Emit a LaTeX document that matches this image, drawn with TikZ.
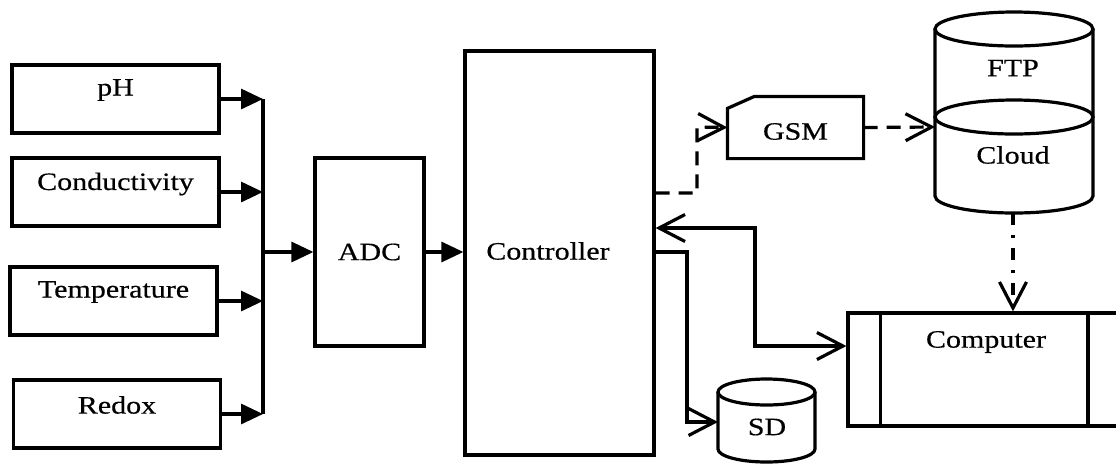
\documentclass[tikz,border=0pt]{standalone}
\usepackage{fontspec}
\setmainfont{Liberation Serif}[FakeStretch=1.2,FakeBold=0.5]
\usetikzlibrary{arrows.meta}
\newcommand{\upt}[2]{\raisebox{#1}[\height][\depth]{#2}}
\begin{document}
\begin{tikzpicture}[x=0.5pt,y=-0.5pt,
  line width=1.6pt,
  blk/.style={draw, line width=1.6pt, rectangle, inner sep=0pt, font=\fontsize{12.5}{15}\selectfont},
  txt/.style={inner sep=0pt, font=\fontsize{12.5}{15}\selectfont},
  fill tip/.style={-{Triangle[length=11pt,width=10pt]}},
  open tip/.style={-{Straight Barb[length=13pt,width=13.5pt]}},
  dashline/.style={dash pattern=on 7pt off 4.5pt},
  dashdotline/.style={dash pattern=on 6pt off 5pt on 1.5pt off 5pt}]
\useasboundingbox (0,0) rectangle (1116,463);
\clip (0,0) rectangle (1116,463);
% sensor boxes
\node[blk, minimum width=103.5pt, minimum height=34pt] (ph) at (115.5,99) {\upt{4.5pt}{pH}};
\node[blk, minimum width=103.5pt, minimum height=34pt] (cond) at (115.5,192) {\upt{4pt}{Conductivity}};
\node[blk, minimum width=103.5pt, minimum height=34pt] (temp) at (113.5,301) {\upt{4.5pt}{Temperature}};
\node[blk, minimum width=103.5pt, minimum height=34pt] (redox) at (117,414) {\upt{4.5pt}{Redox}};
% ADC and controller
\node[blk, minimum width=54.5pt, minimum height=94pt] (adc) at (369.5,252) {ADC};
\node[blk, minimum width=94.5pt, minimum height=202pt] (ctrl) at (559.5,253) {};
\node[txt] (ctrltxt) at (548,251) {Controller};
% bus
\coordinate (b1) at (263,99);
\coordinate (b2) at (263,192);
\coordinate (b3) at (263,301);
\coordinate (b4) at (263,414);
\coordinate (bm) at (263,252);
\draw (b1) -- (b4);
\draw[fill tip] (ph.east) -- (b1);
\draw[fill tip] (cond.east) -- (b2);
\draw[fill tip] (temp.east) -- (b3);
\draw[fill tip] (redox.east) -- (b4);
\draw[fill tip] (bm) -- (adc.west);
\draw[fill tip] (adc.east) -- (ctrl.west |- adc.east);
% GSM
\node[txt, minimum width=66.5pt, minimum height=29.5pt] (gsm) at (795.5,127.5) {\upt{-2pt}{GSM}};
\draw[line join=miter] (gsm.north west) ++(0,12) -- ([xshift=13.5pt]gsm.north west) -- (gsm.north east) -- (gsm.south east) -- (gsm.south west) -- cycle;
% FTP / Cloud cylinder
\coordinate (cyltop) at (1014,29);
\coordinate (cylmid) at (1014,117);
\coordinate (cylbot) at (1014,196);
\draw (935,29) -- (935,196) arc[start angle=180, end angle=360, x radius=39.5pt, y radius=8.5pt] -- (1093,29);
\draw (cyltop) ellipse [x radius=39.5pt, y radius=8.5pt];
\draw (cylmid) ellipse [x radius=39.5pt, y radius=8.5pt];
\node[txt] (ftp) at (1013,68) {FTP};
\node[txt] (cloud) at (1013,155) {Cloud};
\coordinate (cloudin) at (935,127);
\coordinate (cloudout) at (1013,213);
% SD cylinder
\draw (718,392) -- (718,449) arc[start angle=180, end angle=360, x radius=24.25pt, y radius=6.5pt] -- (815,392);
\draw (766.5,392) ellipse [x radius=24.25pt, y radius=6.5pt];
\node[txt] (sd) at (767,427) {SD};
\coordinate (sdin) at (718,422);
% Computer
\node[draw, rectangle, inner sep=0pt, minimum width=150pt, minimum height=56.5pt] (comp) at (998,369.5) {};
\draw ([xshift=17pt]comp.north west) -- ([xshift=17pt]comp.south west);
\draw (1088,313) -- (1088,426);
\node[txt] (comptxt) at (986,342) {Computer};
% connectors on the right
\draw[dashline, open tip] (ctrl.east |- 0,193) -- (697,193) -- (697,127) -- (gsm.west);
\draw[dashline, open tip] (gsm.east) -- (cloudin);
\draw[dashdotline, open tip] (cloudout) -- (cloudout |- comp.north);
\draw[{Straight Barb[length=13pt,width=13.5pt]}-{Straight Barb[length=13pt,width=13.5pt]}] (ctrl.east |- 0,228) -- (755,228) -- (755,346) -- (comp.west |- 0,346);
\draw[open tip] (ctrl.east |- 0,252) -- (687,252) -- (687,422) -- (sdin);
\end{tikzpicture}
\end{document}
